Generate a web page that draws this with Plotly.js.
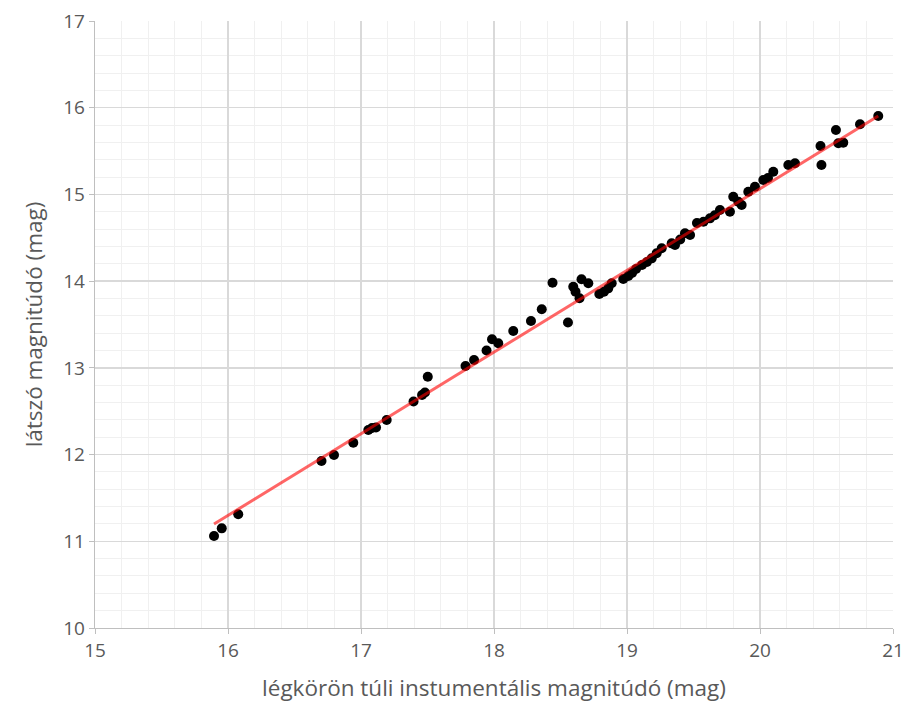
<!DOCTYPE html>
<html>
<head>
<meta charset="utf-8">
<script src="https://cdn.plot.ly/plotly-3.0.1.min.js"></script>
<style>html,body{margin:0;padding:0;background:#fff;}#chart{width:909px;height:717px;}</style>
</head>
<body>
<div id="chart"></div>
<script>
// instrumental (extra-atmospheric) magnitude
const instMag = [15.895, 15.953, 16.077, 16.703, 16.797, 16.942, 17.055, 17.083, 17.113, 17.193,
  17.395, 17.459, 17.481, 17.502, 17.786, 17.850, 17.944, 17.985, 18.032, 18.145,
  18.278, 18.359, 18.440, 18.556, 18.596, 18.613, 18.643, 18.658, 18.709, 18.792,
  18.827, 18.859, 18.885, 18.972, 19.010, 19.038, 19.068, 19.113, 19.150, 19.186, 19.223,
  19.261, 19.336, 19.361, 19.400, 19.436, 19.474, 19.526, 19.575, 19.624, 19.660, 19.699, 19.774,
  19.799, 19.837, 19.862, 19.912, 19.962, 20.025, 20.060, 20.100, 20.213, 20.263, 20.455,
  20.462, 20.571, 20.589, 20.626, 20.752, 20.889];
// apparent magnitude
const appMag = [11.061, 11.149, 11.311, 11.926, 11.995, 12.137, 12.283, 12.306, 12.312, 12.398,
  12.612, 12.687, 12.716, 12.898, 13.021, 13.090, 13.200, 13.329, 13.283, 13.425,
  13.540, 13.675, 13.982, 13.523, 13.936, 13.878, 13.802, 14.022, 13.975, 13.852,
  13.878, 13.917, 13.975, 14.025, 14.059, 14.094, 14.140, 14.186, 14.220, 14.263, 14.321,
  14.379, 14.436, 14.417, 14.480, 14.552, 14.532, 14.670, 14.685, 14.724, 14.760, 14.820, 14.801,
  14.974, 14.916, 14.878, 15.031, 15.089, 15.166, 15.190, 15.262, 15.339, 15.359, 15.558,
  15.339, 15.743, 15.590, 15.597, 15.809, 15.904];
// linear trendline endpoints
const trendX = [15.895, 20.889];
const trendY = [11.199, 15.904];

const xTickVals = [15, 16, 17, 18, 19, 20, 21];
const yTickVals = [10, 11, 12, 13, 14, 15, 16, 17];

const font = "Open Sans, Noto Sans, sans-serif";

const data = [
  {x: instMag, y: appMag, type: 'scatter', mode: 'markers',
   marker: {color: '#000000', size: 10}, hoverinfo: 'x+y'},
  {x: trendX, y: trendY, type: 'scatter', mode: 'lines',
   line: {color: 'rgba(255,0,0,0.6)', width: 3}, hoverinfo: 'skip'}
];

const layout = {
  width: 909, height: 717,
  margin: {l: 95, r: 16, t: 21, b: 89},
  paper_bgcolor: '#ffffff', plot_bgcolor: '#ffffff',
  showlegend: false,
  font: {family: font, color: '#595959'},
  xaxis: {
    range: [15, 21], tickvals: xTickVals, ticktext: xTickVals.map(String),
    showgrid: true, gridcolor: '#d9d9d9', gridwidth: 1.3,
    minor: {dtick: 0.2, showgrid: true, gridcolor: '#f0f0f0', gridwidth: 1, ticks: ''},
    zeroline: false, showline: true, linecolor: '#bfbfbf', linewidth: 1.3,
    ticks: 'outside', ticklen: 5, tickcolor: '#bfbfbf',
    tickfont: {size: 19, color: '#595959', family: font},
    title: {text: 'légkörön túli instumentális magnitúdó (mag)', font: {size: 22.5, color: '#595959', family: font}, standoff: 18}
  },
  yaxis: {
    range: [10, 17], tickvals: yTickVals, ticktext: yTickVals.map(String),
    showgrid: true, gridcolor: '#d9d9d9', gridwidth: 1.3,
    minor: {dtick: 0.2, showgrid: true, gridcolor: '#f0f0f0', gridwidth: 1, ticks: ''},
    zeroline: false, showline: true, linecolor: '#bfbfbf', linewidth: 1.3,
    ticks: 'outside', ticklen: 5, tickcolor: '#bfbfbf',
    tickfont: {size: 19, color: '#595959', family: font},
    title: {text: 'látszó magnitúdó (mag)', font: {size: 22.5, color: '#595959', family: font}, standoff: 14}
  }
};

Plotly.newPlot('chart', data, layout, {displayModeBar: false, staticPlot: true});
</script>
</body>
</html>
